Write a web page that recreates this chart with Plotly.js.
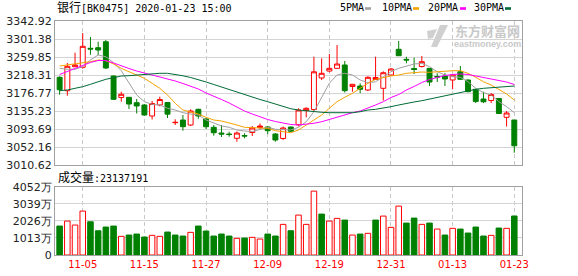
<!DOCTYPE html>
<html><head><meta charset="utf-8">
<script src="https://cdn.plot.ly/plotly-3.0.1.min.js"></script>
<style>html,body{margin:0;padding:0;background:#fff}#chart{width:578px;height:276px}</style>
</head><body><div id="chart"></div>
<script>
const dates = ['10-31','11-01','11-04','11-05','11-06','11-07','11-08','11-11','11-12','11-13','11-14','11-15','11-18','11-19','11-20','11-21','11-22','11-25','11-26','11-27','11-28','11-29','12-02','12-03','12-04','12-05','12-06','12-09','12-10','12-11','12-12','12-13','12-16','12-17','12-18','12-19','12-20','12-23','12-24','12-25','12-26','12-27','12-30','12-31','01-02','01-03','01-06','01-07','01-08','01-09','01-10','01-13','01-14','01-15','01-16','01-17','01-20','01-21','01-22','01-23'];
const openP = [3213.0,3182.1,3237.4,3236.1,3279.9,3281.3,3295.1,3216.0,3166.4,3166.8,3154.4,3149.1,3123.7,3149.1,3154.8,3108.3,3114.4,3102.9,3139.1,3116.8,3097.6,3084.4,3082.1,3072.2,3078.7,3085.6,3097.1,3098.3,3082.1,3071.8,3098.3,3103.6,3136.4,3138.7,3211.4,3227.5,3233.7,3241.4,3191.8,3192.9,3183.7,3207.9,3187.6,3218.3,3277.6,3254.5,3233.3,3237.9,3233.7,3214.8,3216.0,3206.8,3225.9,3206.8,3185.3,3162.9,3159.4,3164.1,3120.7,3114.4];
const highP = [3215.3,3246.0,3269.7,3315.2,3306.0,3295.1,3299.1,3217.2,3179.8,3167.5,3162.9,3151.4,3158.3,3168.2,3154.8,3116.1,3126.0,3139.1,3140.6,3119.1,3102.9,3102.9,3087.4,3087.9,3083.8,3100.6,3106.4,3100.6,3084.4,3099.5,3099.0,3141.4,3143.8,3260.5,3256.8,3266.7,3287.5,3250.6,3197.5,3199.1,3215.3,3260.5,3226.8,3234.4,3296.8,3260.5,3258.2,3262.1,3234.4,3222.2,3222.9,3220.6,3239.1,3207.9,3186.0,3179.8,3176.8,3165.2,3135.2,3114.4];
const lowP = [3172.8,3170.5,3236.8,3232.9,3265.1,3264.4,3232.1,3160.6,3156.7,3139.8,3129.4,3124.4,3115.6,3146.1,3119.1,3102.9,3089.8,3100.6,3117.4,3093.7,3078.2,3075.2,3075.9,3064.4,3072.2,3077.5,3091.4,3082.1,3064.4,3068.3,3087.4,3099.9,3120.7,3132.9,3206.8,3224.5,3232.9,3177.9,3179.8,3176.1,3181.4,3206.8,3159.4,3217.2,3262.2,3245.3,3220.6,3235.6,3192.9,3202.1,3192.9,3185.3,3206.8,3178.4,3153.7,3153.7,3153.7,3128.3,3099.5,3039.0];
const closeP = [3184.4,3238.4,3241.4,3284.5,3278.3,3276.0,3234.4,3162.2,3173.8,3151.4,3146.8,3126.0,3152.5,3161.8,3128.0,3109.0,3099.0,3135.2,3123.7,3099.0,3085.1,3082.1,3080.9,3084.4,3077.5,3096.0,3100.6,3089.8,3068.3,3096.0,3088.4,3137.5,3141.4,3225.7,3222.2,3233.7,3243.7,3182.1,3196.8,3185.3,3213.0,3212.5,3223.6,3232.1,3262.8,3252.9,3231.0,3249.0,3202.1,3213.7,3209.1,3218.3,3208.4,3179.8,3157.2,3156.5,3173.3,3129.4,3130.6,3055.1];
const ma5 = [3233.8,3231.5,3231.5,3237.5,3252.9,3264.5,3260.5,3246.7,3228.2,3199.2,3172.2,3156.7,3150.7,3149.1,3141.5,3137.5,3131.3,3128.3,3126.0,3114.5,3106.9,3100.6,3097.6,3091.4,3089.1,3087.5,3093.0,3097.6,3093.0,3091.4,3091.4,3097.6,3110.5,3133.6,3168.2,3199.2,3218.3,3222.2,3218.3,3206.8,3200.5,3202.8,3214.4,3225.9,3233.8,3239.1,3243.7,3245.3,3237.5,3225.9,3218.3,3214.4,3213.0,3202.8,3187.6,3177.5,3172.2,3156.7,3145.2,3131.3];
const ma10 = [3239.1,3241.4,3243.7,3245.3,3249.0,3252.9,3251.3,3243.7,3233.8,3225.9,3218.3,3210.7,3199.2,3187.6,3172.2,3153.0,3137.5,3133.6,3128.3,3120.7,3114.5,3112.2,3108.2,3102.9,3097.6,3096.7,3096.7,3095.3,3089.8,3087.5,3085.2,3091.4,3102.9,3114.5,3126.0,3141.5,3156.7,3166.9,3176.1,3187.6,3199.2,3208.4,3213.0,3216.0,3218.3,3222.2,3223.6,3225.2,3224.5,3225.9,3227.5,3228.2,3228.2,3222.2,3213.0,3202.8,3195.2,3185.3,3174.5,3160.6];
const ma20 = [3219.5,3226.4,3234.5,3241.4,3247.2,3251.8,3251.8,3246.0,3239.1,3233.3,3227.5,3222.9,3219.5,3215.3,3210.2,3204.5,3198.7,3192.9,3186.0,3176.8,3169.8,3161.8,3153.7,3144.5,3135.2,3128.3,3121.4,3115.6,3111.0,3106.9,3104.1,3102.9,3104.1,3106.9,3110.5,3115.6,3120.7,3127.2,3131.3,3135.2,3141.5,3149.1,3156.7,3166.4,3173.3,3183.7,3191.8,3201.0,3207.9,3212.5,3217.1,3219.5,3220.6,3219.5,3216.0,3213.0,3210.2,3206.1,3202.1,3196.4];
const ma30 = [3182.1,3183.7,3187.6,3191.3,3196.8,3202.8,3208.4,3212.1,3216.0,3216.7,3218.3,3219.9,3222.2,3222.2,3222.2,3219.9,3216.5,3212.5,3207.9,3202.2,3196.4,3190.6,3184.2,3177.9,3172.2,3166.8,3161.8,3156.7,3151.4,3146.1,3140.5,3137.5,3135.2,3133.6,3132.2,3131.3,3131.3,3131.3,3131.3,3133.6,3137.5,3139.1,3141.5,3145.2,3149.1,3153.0,3156.0,3159.0,3162.9,3166.8,3169.8,3174.5,3177.5,3182.1,3185.3,3187.6,3189.0,3191.3,3192.2,3192.9];
// volume in 万
const volume = [1717,2013,1776,2605,1971,1439,1658,1717,1107,1184,1243,1066,1166,1107,1362,1184,1125,1344,1717,1421,1125,1243,1125,989,1006,1048,947,1243,1125,1817,1439,2368,1817,3789,2427,2013,2173,2072,1184,1243,1285,2072,2309,1640,2901,1894,2190,1817,1894,1539,1184,1581,1539,1302,1658,1125,1166,1598,1581,2313.7191];
const tickDates = ['11-05','11-15','11-27','12-09','12-19','12-31','01-13','01-23'];
const priceTicks = [3010.62,3052.16,3093.69,3135.23,3176.77,3218.31,3259.85,3301.38,3342.92];
const volTicks = [0,1013,2026,3039,4052];
const maNames = ['5PMA','10PMA','20PMA','30PMA'];
const boardName = '银行', boardCode = 'BK0475', stamp = '2020-01-23 15:00';
const volLabel = '成交量';

const RED = '#ff0000', GREEN = '#008000';
const maColors = ['#a0a0a0','#f5a200','#ff00ff','#006b36'];
const W = 578, H = 276, L = 55, R = 56, T = 21, B = 21;
const pw = W - L - R, ph = H - T - B;
const px = x => (x - L) / pw;
const py = y => (H - B - y) / ph;

const volUp = closeP.map((c, i) => i === 0 ? c >= openP[0] : c >= closeP[i - 1]);

const traces = [];
[ma5, ma10, ma20, ma30].forEach((m, k) => traces.push({
  type: 'scatter', mode: 'lines', x: dates, y: m, xaxis: 'x2', yaxis: 'y',
  line: {color: maColors[k], width: 1}, hoverinfo: 'skip', showlegend: false
}));
traces.push({
  type: 'candlestick', x: dates, open: openP, high: highP, low: lowP, close: closeP,
  xaxis: 'x2', yaxis: 'y', whiskerwidth: 0,
  increasing: {line: {color: RED, width: 1}, fillcolor: '#ffffff'},
  decreasing: {line: {color: GREEN, width: 1}, fillcolor: GREEN},
  hoverinfo: 'skip', showlegend: false
});
traces.push({
  type: 'bar', x: dates, y: volume, xaxis: 'x', yaxis: 'y2', width: 0.72,
  marker: {color: volUp.map(u => u ? '#ffffff' : GREEN),
           line: {color: volUp.map(u => u ? RED : GREEN), width: 1}},
  hoverinfo: 'skip', showlegend: false
});

const gridC = '#d4d4d4', frameC = '#a0a0a0';
const tickFont = {family: 'DejaVu Sans, Verdana, sans-serif', size: 11, color: '#222'};
const xCommon = {
  type: 'category', range: [-0.6, 60], tickmode: 'array', tickvals: tickDates, ticktext: tickDates,
  showgrid: true, gridcolor: '#c8c8c8', griddash: '4px,3px', gridwidth: 1,
  showline: true, mirror: true, linecolor: frameC, linewidth: 1, ticks: '', zeroline: false,
  rangeslider: {visible: false}, fixedrange: true
};
const layout = {
  width: W, height: H, margin: {l: L, r: R, t: T, b: B},
  paper_bgcolor: '#fff', plot_bgcolor: '#fff', showlegend: false, hovermode: false,
  boxgap: 0.36, boxgroupgap: 0, bargap: 0.28,
  xaxis: Object.assign({}, xCommon, {anchor: 'y2', domain: [0, 1],
    tickfont: {family: 'DejaVu Sans, Verdana, sans-serif', size: 10, color: RED}}),
  xaxis2: Object.assign({}, xCommon, {anchor: 'y', domain: [0, 1], matches: 'x', showticklabels: false}),
  yaxis: {domain: [py(165), 1], range: [priceTicks[0], priceTicks[priceTicks.length - 1]],
    tickmode: 'array', tickvals: priceTicks, ticktext: priceTicks.map(v => v.toFixed(2)),
    showgrid: true, gridcolor: gridC, showline: true, mirror: true, linecolor: frameC,
    ticks: '', zeroline: false, tickfont: tickFont, fixedrange: true},
  yaxis2: {domain: [0, py(186.7)], range: [0, volTicks[volTicks.length - 1]],
    tickmode: 'array', tickvals: volTicks, ticktext: volTicks.map(v => v === 0 ? '0' : v + '万'),
    showgrid: true, gridcolor: gridC, showline: true, mirror: true, linecolor: frameC,
    ticks: '', zeroline: false, tickfont: tickFont, fixedrange: true},
  annotations: [], shapes: []
};
const monoFont = {family: 'DejaVu Sans Mono, Noto Sans CJK SC, monospace', size: 10, color: '#000'};
layout.annotations.push({
  xref: 'paper', yref: 'paper', x: px(55), y: py(8), xanchor: 'left', yanchor: 'middle', showarrow: false,
  text: '<span style="font-size:12px">' + boardName + '</span>[' + boardCode + '] ' + stamp, font: monoFont
});
layout.annotations.push({
  xref: 'paper', yref: 'paper', x: px(56), y: py(177), xanchor: 'left', yanchor: 'middle', showarrow: false,
  text: '<span style="font-size:12px">' + volLabel + '</span>:' + Math.round(volume[volume.length - 1] * 10000), font: monoFont
});
const legX = [338, 380, 426, 472], legM = [365, 413, 460, 505];
maNames.forEach((n, k) => {
  layout.annotations.push({xref: 'paper', yref: 'paper', x: px(legX[k]), y: py(8), xanchor: 'left', yanchor: 'middle',
    showarrow: false, text: n, font: monoFont});
  layout.shapes.push({type: 'rect', xref: 'paper', yref: 'paper', x0: px(legM[k]), x1: px(legM[k] + 6),
    y0: py(9.8), y1: py(7.2), fillcolor: maColors[k], line: {width: 0}});
});
// watermark
layout.annotations.push({xref: 'paper', yref: 'paper', x: px(487), y: py(30.5), xanchor: 'center', yanchor: 'middle',
  showarrow: false, text: '<b>东方财富网</b>', font: {family: 'Noto Sans CJK SC', size: 13, color: '#c8c8c8'}});
layout.annotations.push({xref: 'paper', yref: 'paper', x: px(487), y: py(43.5), xanchor: 'center', yanchor: 'middle',
  showarrow: false, text: '<b>eastmoney.com</b>', font: {family: 'Liberation Sans, Arial', size: 9, color: '#c8c8c8'}});
const P = (a, b) => px(a).toFixed(4) + ',' + py(b).toFixed(4);
layout.shapes.push({type: 'path', xref: 'paper', yref: 'paper',
  path: 'M' + P(440, 25) + ' L' + P(448, 25) + ' L' + P(437, 47) + ' L' + P(431, 47) + ' Z',
  fillcolor: '#d0d0d0', line: {width: 0}});
layout.shapes.push({type: 'path', xref: 'paper', yref: 'paper',
  path: 'M' + P(427, 31) + ' L' + P(437, 29) + ' L' + P(433, 38) + ' L' + P(428, 39) + ' Z',
  fillcolor: '#d0d0d0', line: {width: 0}});

Plotly.newPlot('chart', traces, layout, {staticPlot: true, displayModeBar: false});
</script></body></html>
